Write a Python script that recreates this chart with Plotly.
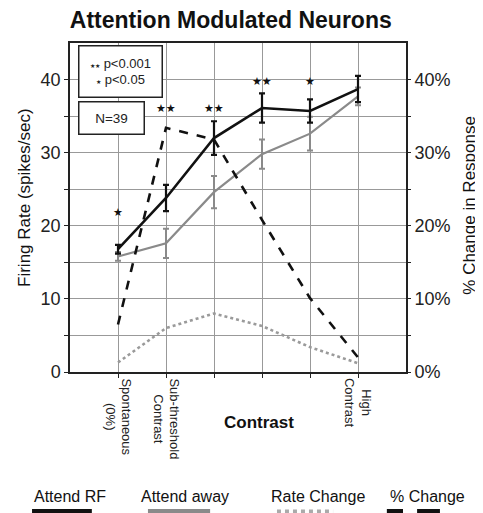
import plotly.graph_objects as go

# ---- data ----
contrast_levels = [0, 1, 2, 3, 4, 5]
contrast_labels = ["Spontaneous<br>(0%)", "Sub-threshold<br>Contrast", "", "", "", "High<br>Contrast"]
attend_rf = [16.8, 23.8, 32.0, 36.1, 35.7, 38.7]
attend_rf_err = [0.6, 1.8, 2.3, 2.0, 1.6, 1.8]
attend_away = [15.8, 17.6, 24.6, 29.8, 32.6, 37.7]
attend_away_err = [0.6, 2.0, 2.2, 2.0, 2.3, 1.2]
rate_change = [1.3, 6.0, 8.0, 6.3, 3.4, 1.2]
pct_change = [6.5, 33.4, 31.8, 20.8, 10.1, 2.0]
significance = ["★", "★★", "★★", "★★", "★", ""]
significance_y = [21.8, 36.0, 36.0, 39.8, 39.8, 0]
left_ticks = [0, 5, 10, 15, 20, 25, 30, 35, 40]
left_ticktext = ["0", "", "10", "", "20", "", "30", "", "40"]
right_ticktext = ["0%", "", "10%", "", "20%", "", "30%", "", "40%"]
legend_names = ["Attend RF", "Attend away", "Rate Change", "% Change"]

FONT = "Liberation Sans, Arial, Helvetica, sans-serif"

fig = go.Figure()

fig.add_trace(go.Scatter(
    x=contrast_levels, y=attend_away, mode="lines",
    line=dict(color="#8a8a8a", width=2.2),
    error_y=dict(type="data", array=attend_away_err, color="#8a8a8a", thickness=2, width=3),
    showlegend=False))
fig.add_trace(go.Scatter(
    x=contrast_levels, y=attend_rf, mode="lines",
    line=dict(color="#111111", width=2.6),
    error_y=dict(type="data", array=attend_rf_err, color="#111111", thickness=2.2, width=3),
    showlegend=False))
fig.add_trace(go.Scatter(
    x=contrast_levels, y=rate_change, mode="lines",
    line=dict(color="#9a9a9a", width=2.6, dash="dot"),
    showlegend=False))
fig.add_trace(go.Scatter(
    x=contrast_levels, y=pct_change, mode="lines", yaxis="y2",
    line=dict(color="#111111", width=2.6, dash="dash"),
    showlegend=False))

annotations = []
for xv, s, yv in zip(contrast_levels, significance, significance_y):
    if s:
        annotations.append(dict(x=xv, y=yv, xref="x", yref="y", text=s, showarrow=False,
                                xanchor="center", yanchor="middle",
                                font=dict(family="DejaVu Sans", size=11, color="#111")))

# x tick labels (centred, rotated)
for xv, lab in zip(contrast_levels, contrast_labels):
    if lab:
        annotations.append(dict(x=xv, y=-0.012, xref="x", yref="paper", text=lab, textangle=90,
                                xanchor="center", yanchor="top", showarrow=False, align="center",
                                font=dict(family=FONT, size=13, color="#222")))

# p-value key box and N box
annotations.append(dict(xref="paper", yref="paper", x=0.024, y=0.994, xanchor="left", yanchor="top",
                        text="<span style='font-size:6px'>★★</span> p&lt;0.001<br><span style='font-size:6px'>★</span> p&lt;0.05",
                        showarrow=False, align="center", bgcolor="white", bordercolor="#222",
                        borderwidth=1.5, borderpad=2, width=78, height=46,
                        font=dict(family=FONT, size=13, color="#222")))
annotations.append(dict(xref="paper", yref="paper", x=0.024, y=0.824, xanchor="left", yanchor="top",
                        text="N=39", showarrow=False, bgcolor="white", bordercolor="#222",
                        borderwidth=1.5, borderpad=2, width=60, height=27,
                        font=dict(family=FONT, size=13.5, color="#222")))

# axis titles
annotations.append(dict(xref="paper", yref="paper", x=-0.134, y=0.532, xanchor="center", yanchor="middle",
                        text="Firing Rate (spikes/sec)", textangle=-90, showarrow=False,
                        font=dict(family=FONT, size=17, color="#111")))
annotations.append(dict(xref="paper", yref="paper", x=1.19, y=0.508, xanchor="center", yanchor="middle",
                        text="% Change in Response", textangle=-90, showarrow=False,
                        font=dict(family=FONT, size=17, color="#111")))
annotations.append(dict(xref="paper", yref="paper", x=0.5625, y=-0.155, xanchor="center", yanchor="middle",
                        text="<b>Contrast</b>", showarrow=False,
                        font=dict(family=FONT, size=17, color="#111")))

# bottom legend labels
legend_x = [0.0, 0.341, 0.739, 1.065]
for name, lx in zip(legend_names, legend_x):
    annotations.append(dict(xref="paper", yref="paper", x=lx, y=-0.377, xanchor="center", yanchor="middle",
                            text=name, showarrow=False,
                            font=dict(family=FONT, size=16, color="#111")))

shapes = [
    dict(type="line", xref="paper", yref="paper", x0=-0.113, x1=0.065, y0=-0.424, y1=-0.424,
         line=dict(color="#111", width=5)),
    dict(type="line", xref="paper", yref="paper", x0=0.232, x1=0.417, y0=-0.424, y1=-0.424,
         line=dict(color="#8a8a8a", width=5)),
    dict(type="line", xref="paper", yref="paper", x0=0.616, x1=0.783, y0=-0.424, y1=-0.424,
         line=dict(color="#aaa", width=4, dash="dot")),
    dict(type="line", xref="paper", yref="paper", x0=0.943, x1=0.991, y0=-0.424, y1=-0.424,
         line=dict(color="#111", width=5)),
    dict(type="line", xref="paper", yref="paper", x0=1.033, x1=1.101, y0=-0.424, y1=-0.424,
         line=dict(color="#111", width=5)),
]

fig.update_layout(
    width=475, height=505,
    margin=dict(l=62, r=77, t=35, b=141, autoexpand=False),
    paper_bgcolor="white", plot_bgcolor="white",
    title=dict(text="<b>Attention Modulated Neurons</b>", x=0.469, xanchor="center",
               y=0.976, yanchor="middle", font=dict(family=FONT, size=23, color="#111")),
    xaxis=dict(range=[-1, 6], tickvals=contrast_levels, showticklabels=False,
               showgrid=True, gridcolor="#999", gridwidth=1, zeroline=False, automargin=False,
               showline=True, linecolor="#222", linewidth=1.5, mirror=True,
               ticks="outside", ticklen=4, tickcolor="#222"),
    yaxis=dict(range=[0, 45], tickvals=left_ticks, ticktext=left_ticktext, automargin=False,
               showgrid=True, gridcolor="#999", gridwidth=1, zeroline=False,
               showline=True, linecolor="#222", linewidth=1.5, mirror=True,
               ticks="outside", ticklen=4, tickcolor="#222",
               tickfont=dict(family=FONT, size=18, color="#222")),
    yaxis2=dict(range=[0, 45], overlaying="y", side="right", tickvals=left_ticks, ticktext=right_ticktext,
                showgrid=False, zeroline=False, showline=False, automargin=False,
                ticks="outside", ticklen=4, tickcolor="#222",
                tickfont=dict(family=FONT, size=18, color="#222")),
    annotations=annotations,
    shapes=shapes,
    showlegend=False,
)

fig.write_html("out.html")
